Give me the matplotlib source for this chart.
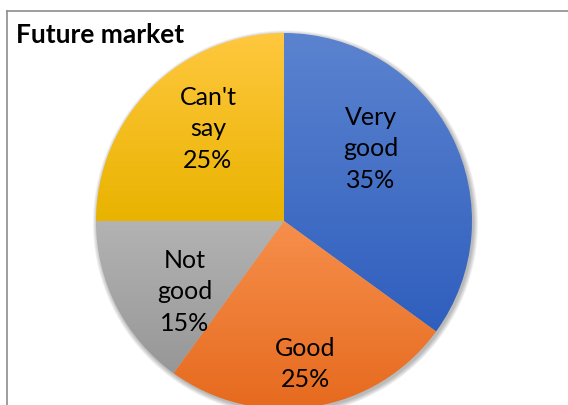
import numpy as np
import matplotlib
matplotlib.use("Agg")
import matplotlib.pyplot as plt
from matplotlib.colors import LinearSegmentedColormap
from matplotlib.lines import Line2D
from matplotlib.patches import Circle

plt.rcParams['font.family'] = ['Lato', 'DejaVu Sans']

# survey answers
categories = ["Very good", "Good", "Not good", "Can't say"]
shares = [35, 25, 15, 25]

# top / bottom colour of each slice (vertical gradient)
grad_top = ["#5B83CF", "#F68F4C", "#B3B3B3", "#FFC83F"]
grad_bot = ["#2F5EBD", "#E66A1E", "#979797", "#E9B300"]

# label centres in pixels (x, y from top)
label_px = [(371, 149), (305, 364), (185, 292), (208, 129)]

W, H = 568, 406
cx, cy, r = 284, 222, 188

fig = plt.figure(figsize=(W / 100, H / 100), dpi=100)
fig.patch.set_facecolor("white")
ax = fig.add_axes([(cx - r) / W, (H - cy - r) / H, 2 * r / W, 2 * r / H])

wedges, _ = ax.pie(shares, startangle=90, counterclock=False, radius=1,
                   center=(0, 0), frame=False,
                   wedgeprops=dict(linewidth=0))
ax.set_aspect("equal")
ax.axis("off")

# soft shadow under the pie
px = 1.0 / r
for k in range(5):
    ax.add_patch(Circle((1.5 * px, -2.0 * px), 1 + (k + 0.5) * px,
                        facecolor="black", edgecolor="none",
                        alpha=0.06, zorder=0, clip_on=False))

grad = np.linspace(0, 1, 256).reshape(-1, 1)
for w, c0, c1 in zip(wedges, grad_top, grad_bot):
    w.set_facecolor("none")
    w.set_zorder(2)
    bb = w.get_path().get_extents()
    cmap = LinearSegmentedColormap.from_list("g", [c0, c1])
    im = ax.imshow(grad, cmap=cmap, aspect="auto", origin="upper",
                   extent=(bb.x0, bb.x1, bb.y0, bb.y1), zorder=1,
                   interpolation="bilinear")
    im.set_clip_path(w)

ax.set_xlim(-1, 1)
ax.set_ylim(-1, 1)

for name, val, (lx, ly) in zip(categories, shares, label_px):
    ax.text((lx - cx) / r, (cy - ly) / r, f"{name.replace(' ', chr(10))}\n{val}%",
            ha="center", va="center", fontsize=18, color="black",
            linespacing=1.45, zorder=5)

# chart frame (only left and top visible)
fig.add_artist(Line2D([6.5 / W, 6.5 / W], [0, (H - 11.5) / H],
                      color="#8E8E8E", lw=1.2))
fig.add_artist(Line2D([6.5 / W, 1], [(H - 11.5) / H, (H - 11.5) / H],
                      color="#8E8E8E", lw=1.2))

fig.text(16 / W, (H - 43) / H, "Future market", fontsize=19,
         fontweight="bold", ha="left", va="baseline")

fig.savefig("out.png", dpi=100)
